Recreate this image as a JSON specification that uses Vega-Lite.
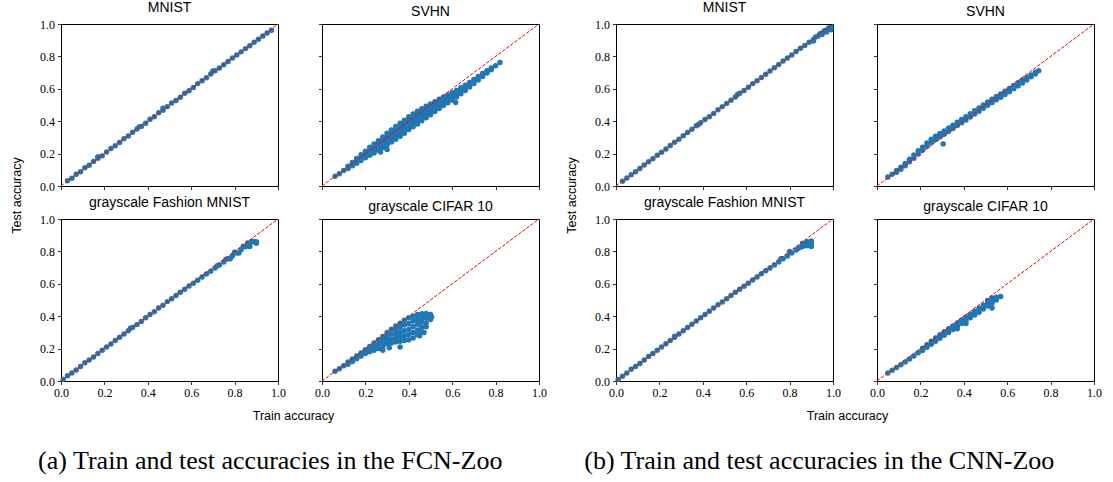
{
"$schema":"https://vega.github.io/schema/vega-lite/v6.json",
"padding":{"left":9,"top":0,"right":2,"bottom":2},
"background":"white",
"datasets":{
"diag":[{"x":0,"y":0},{"x":1,"y":1}],
"a1":[{"x":0.03,"y":0.032},{"x":0.05,"y":0.048},{"x":0.07,"y":0.072},{"x":0.09,"y":0.088},{"x":0.11,"y":0.112},{"x":0.13,"y":0.128},{"x":0.15,"y":0.152},{"x":0.17,"y":0.172},{"x":0.19,"y":0.186},{"x":0.21,"y":0.21},{"x":0.23,"y":0.232},{"x":0.25,"y":0.248},{"x":0.27,"y":0.268},{"x":0.29,"y":0.292},{"x":0.31,"y":0.308},{"x":0.33,"y":0.332},{"x":0.35,"y":0.352},{"x":0.37,"y":0.368},{"x":0.39,"y":0.388},{"x":0.41,"y":0.412},{"x":0.43,"y":0.428},{"x":0.45,"y":0.452},{"x":0.47,"y":0.468},{"x":0.49,"y":0.49},{"x":0.51,"y":0.512},{"x":0.53,"y":0.528},{"x":0.55,"y":0.548},{"x":0.57,"y":0.572},{"x":0.59,"y":0.588},{"x":0.61,"y":0.608},{"x":0.63,"y":0.632},{"x":0.65,"y":0.65},{"x":0.67,"y":0.668},{"x":0.69,"y":0.692},{"x":0.71,"y":0.712},{"x":0.73,"y":0.728},{"x":0.75,"y":0.748},{"x":0.77,"y":0.768},{"x":0.79,"y":0.79},{"x":0.81,"y":0.808},{"x":0.83,"y":0.828},{"x":0.85,"y":0.848},{"x":0.87,"y":0.866},{"x":0.89,"y":0.888},{"x":0.91,"y":0.906},{"x":0.93,"y":0.926},{"x":0.95,"y":0.944},{"x":0.97,"y":0.962},{"x":0.47,"y":0.48},{"x":0.36,"y":0.365},{"x":0.17,"y":0.18},{"x":0.7,"y":0.71}],
"a2":[{"x":0.06,"y":0.06},{"x":0.08,"y":0.075},{"x":0.1,"y":0.095},{"x":0.12,"y":0.108},{"x":0.12,"y":0.122},{"x":0.14,"y":0.125},{"x":0.14,"y":0.145},{"x":0.16,"y":0.14},{"x":0.16,"y":0.155},{"x":0.16,"y":0.17},{"x":0.18,"y":0.157},{"x":0.18,"y":0.175},{"x":0.18,"y":0.193},{"x":0.2,"y":0.175},{"x":0.2,"y":0.195},{"x":0.2,"y":0.215},{"x":0.22,"y":0.19},{"x":0.22,"y":0.207},{"x":0.22,"y":0.223},{"x":0.22,"y":0.24},{"x":0.24,"y":0.204},{"x":0.24,"y":0.223},{"x":0.24,"y":0.241},{"x":0.24,"y":0.26},{"x":0.26,"y":0.22},{"x":0.26,"y":0.24},{"x":0.26,"y":0.26},{"x":0.26,"y":0.28},{"x":0.28,"y":0.237},{"x":0.28,"y":0.254},{"x":0.28,"y":0.27},{"x":0.28,"y":0.286},{"x":0.28,"y":0.303},{"x":0.3,"y":0.255},{"x":0.3,"y":0.273},{"x":0.3,"y":0.29},{"x":0.3,"y":0.307},{"x":0.3,"y":0.325},{"x":0.32,"y":0.271},{"x":0.32,"y":0.29},{"x":0.32,"y":0.308},{"x":0.32,"y":0.326},{"x":0.32,"y":0.345},{"x":0.34,"y":0.289},{"x":0.34,"y":0.309},{"x":0.34,"y":0.328},{"x":0.34,"y":0.348},{"x":0.34,"y":0.367},{"x":0.36,"y":0.307},{"x":0.36,"y":0.327},{"x":0.36,"y":0.347},{"x":0.36,"y":0.367},{"x":0.36,"y":0.387},{"x":0.38,"y":0.326},{"x":0.38,"y":0.346},{"x":0.38,"y":0.366},{"x":0.38,"y":0.386},{"x":0.38,"y":0.406},{"x":0.4,"y":0.348},{"x":0.4,"y":0.368},{"x":0.4,"y":0.388},{"x":0.4,"y":0.408},{"x":0.4,"y":0.428},{"x":0.42,"y":0.365},{"x":0.42,"y":0.385},{"x":0.42,"y":0.405},{"x":0.42,"y":0.425},{"x":0.42,"y":0.445},{"x":0.44,"y":0.382},{"x":0.44,"y":0.402},{"x":0.44,"y":0.422},{"x":0.44,"y":0.442},{"x":0.44,"y":0.462},{"x":0.46,"y":0.403},{"x":0.46,"y":0.421},{"x":0.46,"y":0.44},{"x":0.46,"y":0.459},{"x":0.46,"y":0.477},{"x":0.48,"y":0.422},{"x":0.48,"y":0.44},{"x":0.48,"y":0.457},{"x":0.48,"y":0.474},{"x":0.48,"y":0.492},{"x":0.5,"y":0.44},{"x":0.5,"y":0.457},{"x":0.5,"y":0.473},{"x":0.5,"y":0.49},{"x":0.5,"y":0.506},{"x":0.52,"y":0.46},{"x":0.52,"y":0.48},{"x":0.52,"y":0.5},{"x":0.52,"y":0.52},{"x":0.54,"y":0.479},{"x":0.54,"y":0.498},{"x":0.54,"y":0.516},{"x":0.54,"y":0.535},{"x":0.56,"y":0.497},{"x":0.56,"y":0.514},{"x":0.56,"y":0.532},{"x":0.56,"y":0.549},{"x":0.58,"y":0.514},{"x":0.58,"y":0.538},{"x":0.58,"y":0.562},{"x":0.6,"y":0.531},{"x":0.6,"y":0.553},{"x":0.6,"y":0.575},{"x":0.62,"y":0.55},{"x":0.62,"y":0.57},{"x":0.62,"y":0.59},{"x":0.64,"y":0.57},{"x":0.64,"y":0.588},{"x":0.64,"y":0.606},{"x":0.66,"y":0.59},{"x":0.66,"y":0.606},{"x":0.66,"y":0.622},{"x":0.68,"y":0.611},{"x":0.68,"y":0.625},{"x":0.68,"y":0.639},{"x":0.7,"y":0.632},{"x":0.7,"y":0.645},{"x":0.7,"y":0.658},{"x":0.72,"y":0.654},{"x":0.72,"y":0.676},{"x":0.74,"y":0.676},{"x":0.74,"y":0.694},{"x":0.76,"y":0.698},{"x":0.76,"y":0.712},{"x":0.78,"y":0.718},{"x":0.78,"y":0.728},{"x":0.8,"y":0.742},{"x":0.82,"y":0.762},{"x":0.3,"y":0.225},{"x":0.616,"y":0.515},{"x":0.27,"y":0.21}],
"a3":[{"x":0.01,"y":0.01},{"x":0.03,"y":0.032},{"x":0.05,"y":0.05},{"x":0.07,"y":0.068},{"x":0.09,"y":0.09},{"x":0.11,"y":0.112},{"x":0.13,"y":0.13},{"x":0.15,"y":0.148},{"x":0.17,"y":0.17},{"x":0.19,"y":0.19},{"x":0.21,"y":0.21},{"x":0.23,"y":0.228},{"x":0.25,"y":0.25},{"x":0.27,"y":0.27},{"x":0.29,"y":0.29},{"x":0.31,"y":0.31},{"x":0.32,"y":0.325},{"x":0.33,"y":0.33},{"x":0.35,"y":0.348},{"x":0.37,"y":0.368},{"x":0.39,"y":0.39},{"x":0.41,"y":0.41},{"x":0.43,"y":0.428},{"x":0.45,"y":0.45},{"x":0.47,"y":0.468},{"x":0.49,"y":0.49},{"x":0.51,"y":0.508},{"x":0.53,"y":0.528},{"x":0.55,"y":0.548},{"x":0.57,"y":0.566},{"x":0.59,"y":0.586},{"x":0.61,"y":0.604},{"x":0.63,"y":0.622},{"x":0.65,"y":0.642},{"x":0.67,"y":0.66},{"x":0.69,"y":0.678},{"x":0.71,"y":0.698},{"x":0.73,"y":0.716},{"x":0.75,"y":0.735},{"x":0.77,"y":0.755},{"x":0.79,"y":0.772},{"x":0.81,"y":0.79},{"x":0.83,"y":0.81},{"x":0.85,"y":0.828},{"x":0.87,"y":0.845},{"x":0.89,"y":0.86},{"x":0.72,"y":0.712},{"x":0.76,"y":0.752},{"x":0.8,"y":0.795},{"x":0.84,"y":0.832},{"x":0.86,"y":0.852},{"x":0.88,"y":0.862},{"x":0.9,"y":0.86},{"x":0.9,"y":0.85},{"x":0.87,"y":0.83},{"x":0.82,"y":0.79},{"x":0.78,"y":0.755}],
"a4":[{"x":0.06,"y":0.06},{"x":0.08,"y":0.076},{"x":0.1,"y":0.094},{"x":0.12,"y":0.103},{"x":0.12,"y":0.117},{"x":0.14,"y":0.12},{"x":0.14,"y":0.136},{"x":0.16,"y":0.138},{"x":0.16,"y":0.155},{"x":0.18,"y":0.155},{"x":0.18,"y":0.173},{"x":0.2,"y":0.17},{"x":0.2,"y":0.182},{"x":0.2,"y":0.193},{"x":0.22,"y":0.18},{"x":0.22,"y":0.197},{"x":0.22,"y":0.213},{"x":0.24,"y":0.19},{"x":0.24,"y":0.21},{"x":0.24,"y":0.235},{"x":0.26,"y":0.2},{"x":0.26,"y":0.225},{"x":0.26,"y":0.255},{"x":0.28,"y":0.21},{"x":0.28,"y":0.235},{"x":0.28,"y":0.255},{"x":0.28,"y":0.275},{"x":0.3,"y":0.23},{"x":0.3,"y":0.253},{"x":0.3,"y":0.277},{"x":0.3,"y":0.3},{"x":0.32,"y":0.235},{"x":0.32,"y":0.26},{"x":0.32,"y":0.29},{"x":0.32,"y":0.32},{"x":0.34,"y":0.24},{"x":0.34,"y":0.265},{"x":0.34,"y":0.29},{"x":0.34,"y":0.315},{"x":0.34,"y":0.34},{"x":0.36,"y":0.245},{"x":0.36,"y":0.272},{"x":0.36,"y":0.3},{"x":0.36,"y":0.33},{"x":0.36,"y":0.357},{"x":0.38,"y":0.25},{"x":0.38,"y":0.28},{"x":0.38,"y":0.31},{"x":0.38,"y":0.345},{"x":0.38,"y":0.375},{"x":0.4,"y":0.255},{"x":0.4,"y":0.287},{"x":0.4,"y":0.32},{"x":0.4,"y":0.355},{"x":0.4,"y":0.39},{"x":0.42,"y":0.265},{"x":0.42,"y":0.3},{"x":0.42,"y":0.335},{"x":0.42,"y":0.37},{"x":0.42,"y":0.4},{"x":0.44,"y":0.285},{"x":0.44,"y":0.315},{"x":0.44,"y":0.35},{"x":0.44,"y":0.38},{"x":0.44,"y":0.41},{"x":0.46,"y":0.305},{"x":0.46,"y":0.335},{"x":0.46,"y":0.365},{"x":0.46,"y":0.39},{"x":0.46,"y":0.415},{"x":0.48,"y":0.335},{"x":0.48,"y":0.36},{"x":0.48,"y":0.39},{"x":0.48,"y":0.417},{"x":0.5,"y":0.38},{"x":0.5,"y":0.41},{"x":0.505,"y":0.395},{"x":0.31,"y":0.205},{"x":0.36,"y":0.21},{"x":0.28,"y":0.19},{"x":0.45,"y":0.28},{"x":0.47,"y":0.3}],
"b1":[{"x":0.03,"y":0.03},{"x":0.05,"y":0.05},{"x":0.07,"y":0.07},{"x":0.09,"y":0.088},{"x":0.11,"y":0.108},{"x":0.13,"y":0.13},{"x":0.15,"y":0.15},{"x":0.17,"y":0.168},{"x":0.19,"y":0.19},{"x":0.21,"y":0.208},{"x":0.23,"y":0.228},{"x":0.25,"y":0.25},{"x":0.27,"y":0.27},{"x":0.29,"y":0.288},{"x":0.31,"y":0.31},{"x":0.33,"y":0.33},{"x":0.35,"y":0.35},{"x":0.37,"y":0.372},{"x":0.39,"y":0.39},{"x":0.41,"y":0.41},{"x":0.43,"y":0.428},{"x":0.45,"y":0.448},{"x":0.47,"y":0.47},{"x":0.49,"y":0.49},{"x":0.51,"y":0.51},{"x":0.53,"y":0.53},{"x":0.55,"y":0.55},{"x":0.57,"y":0.572},{"x":0.59,"y":0.59},{"x":0.61,"y":0.61},{"x":0.63,"y":0.632},{"x":0.65,"y":0.65},{"x":0.67,"y":0.67},{"x":0.69,"y":0.69},{"x":0.71,"y":0.71},{"x":0.73,"y":0.73},{"x":0.75,"y":0.75},{"x":0.77,"y":0.772},{"x":0.79,"y":0.79},{"x":0.81,"y":0.808},{"x":0.83,"y":0.83},{"x":0.85,"y":0.85},{"x":0.87,"y":0.868},{"x":0.89,"y":0.888},{"x":0.91,"y":0.905},{"x":0.93,"y":0.925},{"x":0.95,"y":0.945},{"x":0.97,"y":0.962},{"x":0.99,"y":0.978},{"x":0.92,"y":0.92},{"x":0.94,"y":0.94},{"x":0.96,"y":0.958},{"x":0.98,"y":0.975},{"x":0.99,"y":0.965},{"x":0.97,"y":0.95},{"x":0.95,"y":0.935},{"x":0.91,"y":0.895},{"x":0.56,"y":0.565},{"x":0.38,"y":0.38}],
"b2":[{"x":0.05,"y":0.055},{"x":0.07,"y":0.072},{"x":0.09,"y":0.085},{"x":0.09,"y":0.095},{"x":0.11,"y":0.104},{"x":0.11,"y":0.116},{"x":0.13,"y":0.125},{"x":0.13,"y":0.139},{"x":0.15,"y":0.149},{"x":0.15,"y":0.165},{"x":0.17,"y":0.172},{"x":0.17,"y":0.192},{"x":0.19,"y":0.197},{"x":0.19,"y":0.217},{"x":0.21,"y":0.22},{"x":0.21,"y":0.24},{"x":0.23,"y":0.245},{"x":0.23,"y":0.265},{"x":0.25,"y":0.268},{"x":0.25,"y":0.288},{"x":0.27,"y":0.287},{"x":0.27,"y":0.307},{"x":0.29,"y":0.304},{"x":0.29,"y":0.324},{"x":0.31,"y":0.32},{"x":0.31,"y":0.34},{"x":0.33,"y":0.338},{"x":0.33,"y":0.358},{"x":0.35,"y":0.355},{"x":0.35,"y":0.375},{"x":0.37,"y":0.373},{"x":0.37,"y":0.393},{"x":0.39,"y":0.39},{"x":0.39,"y":0.41},{"x":0.41,"y":0.408},{"x":0.41,"y":0.428},{"x":0.43,"y":0.426},{"x":0.43,"y":0.446},{"x":0.45,"y":0.444},{"x":0.45,"y":0.464},{"x":0.47,"y":0.462},{"x":0.47,"y":0.482},{"x":0.49,"y":0.48},{"x":0.49,"y":0.5},{"x":0.51,"y":0.498},{"x":0.51,"y":0.518},{"x":0.53,"y":0.515},{"x":0.53,"y":0.535},{"x":0.55,"y":0.532},{"x":0.55,"y":0.552},{"x":0.57,"y":0.548},{"x":0.57,"y":0.568},{"x":0.59,"y":0.565},{"x":0.59,"y":0.585},{"x":0.61,"y":0.582},{"x":0.61,"y":0.602},{"x":0.63,"y":0.6},{"x":0.63,"y":0.62},{"x":0.65,"y":0.618},{"x":0.65,"y":0.638},{"x":0.67,"y":0.636},{"x":0.67,"y":0.654},{"x":0.69,"y":0.654},{"x":0.69,"y":0.67},{"x":0.71,"y":0.674},{"x":0.71,"y":0.686},{"x":0.73,"y":0.692},{"x":0.73,"y":0.702},{"x":0.745,"y":0.712},{"x":0.305,"y":0.26}],
"b3":[{"x":0.01,"y":0.01},{"x":0.03,"y":0.03},{"x":0.05,"y":0.05},{"x":0.07,"y":0.072},{"x":0.09,"y":0.09},{"x":0.11,"y":0.108},{"x":0.13,"y":0.13},{"x":0.15,"y":0.152},{"x":0.17,"y":0.17},{"x":0.19,"y":0.19},{"x":0.21,"y":0.21},{"x":0.23,"y":0.23},{"x":0.25,"y":0.25},{"x":0.27,"y":0.27},{"x":0.27,"y":0.276},{"x":0.29,"y":0.29},{"x":0.31,"y":0.31},{"x":0.33,"y":0.33},{"x":0.35,"y":0.35},{"x":0.37,"y":0.37},{"x":0.39,"y":0.39},{"x":0.41,"y":0.41},{"x":0.43,"y":0.43},{"x":0.45,"y":0.45},{"x":0.47,"y":0.47},{"x":0.49,"y":0.488},{"x":0.51,"y":0.508},{"x":0.53,"y":0.528},{"x":0.55,"y":0.548},{"x":0.57,"y":0.566},{"x":0.59,"y":0.585},{"x":0.61,"y":0.604},{"x":0.63,"y":0.624},{"x":0.65,"y":0.642},{"x":0.67,"y":0.662},{"x":0.69,"y":0.68},{"x":0.71,"y":0.698},{"x":0.73,"y":0.716},{"x":0.75,"y":0.735},{"x":0.77,"y":0.754},{"x":0.79,"y":0.772},{"x":0.81,"y":0.79},{"x":0.83,"y":0.808},{"x":0.85,"y":0.825},{"x":0.87,"y":0.84},{"x":0.89,"y":0.855},{"x":0.86,"y":0.85},{"x":0.88,"y":0.86},{"x":0.9,"y":0.865},{"x":0.9,"y":0.845},{"x":0.9,"y":0.83},{"x":0.88,"y":0.835},{"x":0.86,"y":0.83},{"x":0.84,"y":0.82},{"x":0.8,"y":0.8},{"x":0.76,"y":0.755}],
"b4":[{"x":0.05,"y":0.05},{"x":0.07,"y":0.066},{"x":0.09,"y":0.083},{"x":0.11,"y":0.1},{"x":0.13,"y":0.118},{"x":0.15,"y":0.136},{"x":0.17,"y":0.155},{"x":0.19,"y":0.175},{"x":0.21,"y":0.188},{"x":0.21,"y":0.202},{"x":0.23,"y":0.208},{"x":0.23,"y":0.224},{"x":0.25,"y":0.227},{"x":0.25,"y":0.245},{"x":0.27,"y":0.245},{"x":0.27,"y":0.265},{"x":0.29,"y":0.264},{"x":0.29,"y":0.286},{"x":0.31,"y":0.282},{"x":0.31,"y":0.304},{"x":0.33,"y":0.3},{"x":0.33,"y":0.322},{"x":0.35,"y":0.318},{"x":0.35,"y":0.34},{"x":0.37,"y":0.337},{"x":0.37,"y":0.358},{"x":0.39,"y":0.355},{"x":0.39,"y":0.377},{"x":0.41,"y":0.373},{"x":0.41,"y":0.395},{"x":0.43,"y":0.39},{"x":0.43,"y":0.412},{"x":0.45,"y":0.407},{"x":0.45,"y":0.43},{"x":0.47,"y":0.425},{"x":0.47,"y":0.449},{"x":0.49,"y":0.445},{"x":0.49,"y":0.467},{"x":0.51,"y":0.463},{"x":0.51,"y":0.48},{"x":0.51,"y":0.497},{"x":0.53,"y":0.48},{"x":0.53,"y":0.497},{"x":0.53,"y":0.512},{"x":0.55,"y":0.5},{"x":0.55,"y":0.517},{"x":0.57,"y":0.522},{"x":0.53,"y":0.45},{"x":0.41,"y":0.355},{"x":0.37,"y":0.322}]
},
"hconcat":[
{
"title":{"text":"(a) Train and test accuracies in the FCN-Zoo","orient":"bottom","font":"Liberation Serif","fontSize":26,"fontWeight":"normal","color":"black","anchor":"middle","offset":26,"dx":-8},
"columns":2,"spacing":{"row":33,"column":44},"bounds":"flush",
"concat":[
{"width":217,"height":162,"title":{"text":"MNIST"},
"layer":[
{"data":{"name":"a1"},"mark":{"type":"circle","size":30,"color":"#1f77b4","opacity":1},
"encoding":{"x":{"field":"x","type":"quantitative","scale":{"domain":[0,1],"nice":false},"axis":{"values":[0,0.2,0.4,0.6,0.8,1],"tickCount":10,"labels":false,"title":null}},
"y":{"field":"y","type":"quantitative","scale":{"domain":[0,1],"nice":false},"axis":{"values":[0,0.2,0.4,0.6,0.8,1],"tickCount":10,"format":".1f","labelOverlap":false,"title":"Test accuracy","titleX":-41,"titleY":171,"titleAlign":"center","titleBaseline":"alphabetic","titleAngle":270}}}},
{"data":{"name":"diag"},"mark":{"type":"line","color":"#ff0000","strokeDash":[3.5,1.5],"strokeWidth":1},"encoding":{"x":{"field":"x","type":"quantitative"},"y":{"field":"y","type":"quantitative"}}}
]},
{"width":217,"height":162,"title":{"text":"SVHN"},
"layer":[
{"data":{"name":"a2"},"mark":{"type":"circle","size":30,"color":"#1f77b4","opacity":1},
"encoding":{"x":{"field":"x","type":"quantitative","scale":{"domain":[0,1],"nice":false},"axis":{"values":[0,0.2,0.4,0.6,0.8,1],"tickCount":10,"labels":false,"title":null}},
"y":{"field":"y","type":"quantitative","scale":{"domain":[0,1],"nice":false},"axis":{"values":[0,0.2,0.4,0.6,0.8,1],"tickCount":10,"labels":false,"title":null}}}},
{"data":{"name":"diag"},"mark":{"type":"line","color":"#ff0000","strokeDash":[3.5,1.5],"strokeWidth":1},"encoding":{"x":{"field":"x","type":"quantitative"},"y":{"field":"y","type":"quantitative"}}}
]},
{"width":217,"height":162,"title":{"text":"grayscale Fashion MNIST"},
"layer":[
{"data":{"name":"a3"},"mark":{"type":"circle","size":30,"color":"#1f77b4","opacity":1},
"encoding":{"x":{"field":"x","type":"quantitative","scale":{"domain":[0,1],"nice":false},"axis":{"values":[0,0.2,0.4,0.6,0.8,1],"tickCount":10,"format":".1f","labelOverlap":false,"title":"Train accuracy","titleX":232,"titleY":38,"titleAlign":"center","titleBaseline":"alphabetic"}},
"y":{"field":"y","type":"quantitative","scale":{"domain":[0,1],"nice":false},"axis":{"values":[0,0.2,0.4,0.6,0.8,1],"tickCount":10,"format":".1f","labelOverlap":false,"title":null}}}},
{"data":{"name":"diag"},"mark":{"type":"line","color":"#ff0000","strokeDash":[3.5,1.5],"strokeWidth":1},"encoding":{"x":{"field":"x","type":"quantitative"},"y":{"field":"y","type":"quantitative"}}}
]},
{"width":217,"height":162,"title":{"text":"grayscale CIFAR 10"},
"layer":[
{"data":{"name":"a4"},"mark":{"type":"circle","size":30,"color":"#1f77b4","opacity":1},
"encoding":{"x":{"field":"x","type":"quantitative","scale":{"domain":[0,1],"nice":false},"axis":{"values":[0,0.2,0.4,0.6,0.8,1],"tickCount":10,"format":".1f","labelOverlap":false,"title":null}},
"y":{"field":"y","type":"quantitative","scale":{"domain":[0,1],"nice":false},"axis":{"values":[0,0.2,0.4,0.6,0.8,1],"tickCount":10,"labels":false,"title":null}}}},
{"data":{"name":"diag"},"mark":{"type":"line","color":"#ff0000","strokeDash":[3.5,1.5],"strokeWidth":1},"encoding":{"x":{"field":"x","type":"quantitative"},"y":{"field":"y","type":"quantitative"}}}
]}
]},
{
"title":{"text":"(b) Train and test accuracies in the CNN-Zoo","orient":"bottom","font":"Liberation Serif","fontSize":26,"fontWeight":"normal","color":"black","anchor":"middle","offset":26,"dx":-14},
"columns":2,"spacing":{"row":33,"column":44},"bounds":"flush",
"concat":[
{"width":217,"height":162,"title":{"text":"MNIST"},
"layer":[
{"data":{"name":"b1"},"mark":{"type":"circle","size":30,"color":"#1f77b4","opacity":1},
"encoding":{"x":{"field":"x","type":"quantitative","scale":{"domain":[0,1],"nice":false},"axis":{"values":[0,0.2,0.4,0.6,0.8,1],"tickCount":10,"labels":false,"title":null}},
"y":{"field":"y","type":"quantitative","scale":{"domain":[0,1],"nice":false},"axis":{"values":[0,0.2,0.4,0.6,0.8,1],"tickCount":10,"format":".1f","labelOverlap":false,"title":"Test accuracy","titleX":-41,"titleY":171,"titleAlign":"center","titleBaseline":"alphabetic","titleAngle":270}}}},
{"data":{"name":"diag"},"mark":{"type":"line","color":"#ff0000","strokeDash":[3.5,1.5],"strokeWidth":1},"encoding":{"x":{"field":"x","type":"quantitative"},"y":{"field":"y","type":"quantitative"}}}
]},
{"width":217,"height":162,"title":{"text":"SVHN"},
"layer":[
{"data":{"name":"b2"},"mark":{"type":"circle","size":30,"color":"#1f77b4","opacity":1},
"encoding":{"x":{"field":"x","type":"quantitative","scale":{"domain":[0,1],"nice":false},"axis":{"values":[0,0.2,0.4,0.6,0.8,1],"tickCount":10,"labels":false,"title":null}},
"y":{"field":"y","type":"quantitative","scale":{"domain":[0,1],"nice":false},"axis":{"values":[0,0.2,0.4,0.6,0.8,1],"tickCount":10,"labels":false,"title":null}}}},
{"data":{"name":"diag"},"mark":{"type":"line","color":"#ff0000","strokeDash":[3.5,1.5],"strokeWidth":1},"encoding":{"x":{"field":"x","type":"quantitative"},"y":{"field":"y","type":"quantitative"}}}
]},
{"width":217,"height":162,"title":{"text":"grayscale Fashion MNIST"},
"layer":[
{"data":{"name":"b3"},"mark":{"type":"circle","size":30,"color":"#1f77b4","opacity":1},
"encoding":{"x":{"field":"x","type":"quantitative","scale":{"domain":[0,1],"nice":false},"axis":{"values":[0,0.2,0.4,0.6,0.8,1],"tickCount":10,"format":".1f","labelOverlap":false,"title":"Train accuracy","titleX":231,"titleY":38,"titleAlign":"center","titleBaseline":"alphabetic"}},
"y":{"field":"y","type":"quantitative","scale":{"domain":[0,1],"nice":false},"axis":{"values":[0,0.2,0.4,0.6,0.8,1],"tickCount":10,"format":".1f","labelOverlap":false,"title":null}}}},
{"data":{"name":"diag"},"mark":{"type":"line","color":"#ff0000","strokeDash":[3.5,1.5],"strokeWidth":1},"encoding":{"x":{"field":"x","type":"quantitative"},"y":{"field":"y","type":"quantitative"}}}
]},
{"width":217,"height":162,"title":{"text":"grayscale CIFAR 10"},
"layer":[
{"data":{"name":"b4"},"mark":{"type":"circle","size":30,"color":"#1f77b4","opacity":1},
"encoding":{"x":{"field":"x","type":"quantitative","scale":{"domain":[0,1],"nice":false},"axis":{"values":[0,0.2,0.4,0.6,0.8,1],"tickCount":10,"format":".1f","labelOverlap":false,"title":null}},
"y":{"field":"y","type":"quantitative","scale":{"domain":[0,1],"nice":false},"axis":{"values":[0,0.2,0.4,0.6,0.8,1],"tickCount":10,"labels":false,"title":null}}}},
{"data":{"name":"diag"},"mark":{"type":"line","color":"#ff0000","strokeDash":[3.5,1.5],"strokeWidth":1},"encoding":{"x":{"field":"x","type":"quantitative"},"y":{"field":"y","type":"quantitative"}}}
]}
]}
],
"spacing":17,
"config":{
"view":{"stroke":"black","strokeWidth":1},
"axis":{"grid":false,"domain":false,"ticks":true,"tickColor":"black","tickSize":3.5,"tickWidth":0.8,"labelFont":"Liberation Serif","labelFontSize":12,"labelColor":"black","labelPadding":3,"labelFlush":false,"labelOverlap":false,"labelBound":false,"titleFont":"Liberation Sans","titleFontSize":12.5,"titleFontWeight":"normal","titleColor":"black"},
"title":{"font":"Liberation Sans","fontSize":14,"fontWeight":"normal","color":"black","offset":3}
}
}
